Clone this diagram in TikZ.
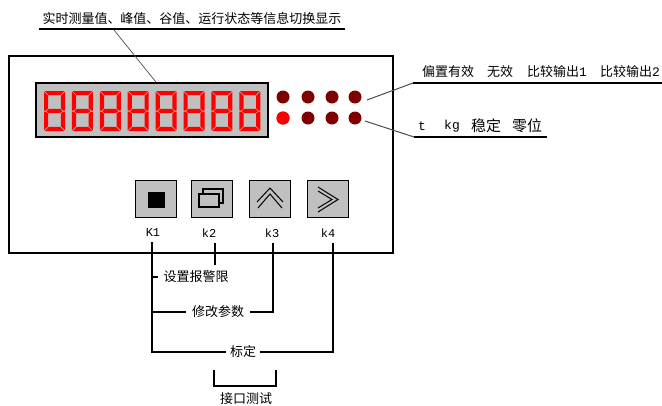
\documentclass[tikz,border=0pt]{standalone}
\usepackage{fontspec}
\setmainfont{Noto Sans CJK SC}
\newfontfamily\latfont{Liberation Mono}
\usetikzlibrary{calc}

\definecolor{panelgray}{HTML}{C0C0C0}
\definecolor{leddark}{HTML}{7F0000}

\tikzset{
	frameline/.style = {line width = 1.8 pt, black},
	leadline/.style = {line width = 1.6 pt, black},
	thinline/.style = {line width = 0.7 pt, black!70},
	keybox/.style = {draw, line width = 1.8 pt, fill = panelgray, minimum width = 41 pt, minimum height = 37 pt, inner sep = 0 pt},
	led/.style = {circle, fill = leddark, minimum size = 13 pt, inner sep = 0 pt},
	txt/.style = {inner sep = 0 pt, font = \fontsize{13}{13}\selectfont},
	gaptxt/.style = {txt, inner xsep = 3 pt, minimum height = 14 pt},
	keytxt/.style = {inner sep = 0 pt, font = \latfont\fontsize{12}{12}\selectfont}
}

\newcommand{\segdigit}[1]{
	\begin{scope}[shift = {(#1, 91)}, fill = red]
		\fill (0.6, 0) -- (20.4, 0) -- (16.2, 4.2) -- (4.8, 4.2) -- cycle;
		\fill (0.6, 40) -- (20.4, 40) -- (16.2, 35.8) -- (4.8, 35.8) -- cycle;
		\fill (2.5, 20) -- (4.8, 17.8) -- (16.2, 17.8) -- (18.5, 20) -- (16.2, 22.2) -- (4.8, 22.2) -- cycle;
		\fill (0, 0.6) -- (4.2, 4.8) -- (4.2, 17.4) -- (2.0, 19.5) -- (0, 19.5) -- cycle;
		\fill (0, 39.4) -- (4.2, 35.2) -- (4.2, 22.6) -- (2.0, 20.5) -- (0, 20.5) -- cycle;
		\fill (21, 0.6) -- (16.8, 4.8) -- (16.8, 17.4) -- (19, 19.5) -- (21, 19.5) -- cycle;
		\fill (21, 39.4) -- (16.8, 35.2) -- (16.8, 22.6) -- (19, 20.5) -- (21, 20.5) -- cycle;
	\end{scope}
}

\begin{document}
\begin{tikzpicture}[x = 1 pt, y = -1 pt]

	\useasboundingbox (0, 0) rectangle (662, 405);

	% Panel + display

	\node [draw, frameline, minimum width = 384 pt, minimum height = 197 pt, inner sep = 0 pt] (panel) at (201, 154.5) {};
	\node [draw, frameline, fill = panelgray, minimum width = 232 pt, minimum height = 54 pt, inner sep = 0 pt] (display) at (152, 110) {};

	\foreach \d in {0, ..., 7} {
		\segdigit{44 + 27.9 * \d}
	}

	% Lamps

	\foreach \name/\x in {a/283, b/308, c/332, d/355} {
		\node [led] (led\name top) at (\x, 97) {};
		\node [led] (led\name low) at (\x, 118) {};
	}
	\node [led, fill = red] at (ledalow) {};

	% Keys

	\node [keybox] (keya) at (156, 199) {};
	\node [keybox] (keyb) at (212, 199) {};
	\node [keybox] (keyc) at (270, 199) {};
	\node [keybox] (keyd) at (328, 199) {};

	\fill (148, 192) rectangle (165, 208);
	\draw [line width = 1.3 pt] (203, 194) |- (223, 189) |- (219, 203);
	\draw [line width = 1.3 pt, fill = panelgray] (199, 194) rectangle (219, 207);
	\draw [line width = 1 pt] (258, 208) -- (270, 194) -- (282, 208);
	\draw [line width = 1 pt] (257, 202) -- (270, 188) -- (283, 202);
	\draw [line width = 1 pt] (318, 191) -- (332, 199.5) -- (318, 208);
	\draw [line width = 1 pt] (318, 187) -- (338, 199.5) -- (318, 212);

	\node [keytxt] (labela) at (153, 233) {K1};
	\node [keytxt] (labelb) at (209, 233) {k2};
	\node [keytxt] (labelc) at (272, 233) {k3};
	\node [keytxt] (labeld) at (328, 233) {k4};

	% Top caption

	\node [txt] (capshow) at (192, 19) {实时测量值、峰值、谷值、运行状态等信息切换显示};
	\coordinate (showa) at (39, 29);
	\coordinate (showb) at (345, 29);
	\coordinate (showtip) at (114, 30);
	\draw [leadline] (showa) -- (showb);
	\draw [thinline] (showtip) -- (display.north -| 156, 0);

	% Right captions

	\node [txt] (capbias) at (448, 72) {偏置有效};
	\node [txt] (capnull) at (500, 72) {无效};
	\node [txt] (capcmpa) at (557, 72) {比较输出{\latfont 1}};
	\node [txt] (capcmpb) at (630, 72) {比较输出{\latfont 2}};

	\node [txt, font = \latfont\fontsize{13}{13}\selectfont] (capt) at (422, 126) {t};
	\node [txt, font = \latfont\fontsize{13}{13}\selectfont] (capkg) at (452, 126) {kg};
	\node [txt, font = \fontsize{15}{15}\selectfont] (capstable) at (486, 126) {稳定};
	\node [txt, font = \fontsize{15}{15}\selectfont] (capzero) at (527, 126) {零位};

	\coordinate (upknee) at (413, 83);
	\coordinate (upend) at (662, 83);
	\coordinate (lowknee) at (414, 137);
	\coordinate (lowend) at (547, 137);

	\draw [leadline] (upknee) -- (upend);
	\draw [leadline] (lowknee) -- (lowend);
	\draw [thinline, line width = 1 pt] ($(leddtop) + (12, 3)$) -- (upknee);
	\draw [thinline, line width = 1 pt] ($(leddlow) + (10, 3)$) -- (lowknee);

	% Key combinations

	\coordinate (tipa) at (152, 242);
	\coordinate (tipb) at (215, 243);
	\coordinate (tipc) at (273, 243);
	\coordinate (tipd) at (333, 243);
	\coordinate (tipbend) at (215, 265);

	\node [gaptxt, inner xsep = 5 pt] (alarm) at (196, 277) {设置报警限};
	\node [gaptxt, inner xsep = 6 pt] (param) at (218, 312) {修改参数};
	\node [gaptxt, inner xsep = 4 pt] (calib) at (243, 352) {标定};

	\draw [leadline] (tipa) |- (calib.west);
	\draw [leadline] (calib.east) -| (tipd);
	\draw [leadline] (tipb) -- (tipbend);
	\draw [leadline] (tipa |- alarm.west) -- (alarm.west);
	\draw [leadline] (tipa |- param.west) -- (param.west);
	\draw [leadline] (param.east) -| (tipc);

	% Bracket

	\node [txt] (iface) at (246, 399) {接口测试};
	\coordinate (bracka) at (214, 370);
	\coordinate (brackb) at (276, 370);
	\draw [leadline] (bracka) -- ++(0, 16) -| (brackb);

\end{tikzpicture}
\end{document}
